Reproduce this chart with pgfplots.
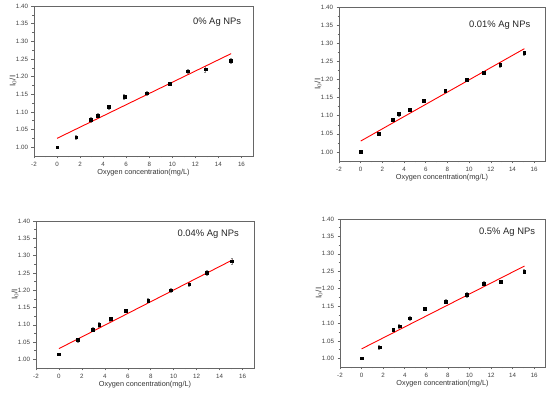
\documentclass[border=0pt]{standalone}
\usepackage{pgfplots}
\pgfplotsset{compat=1.18}
\usepackage{fontspec}
\setmainfont{Liberation Sans}
\pgfplotsset{
  panel/.style={
    scale only axis,
    anchor=south west,
    xmin=-2, xmax=17, ymin=0.975, ymax=1.40,
    xtick={-2,0,...,16}, ytick={1.00,1.05,...,1.41},
    minor x tick num=1, minor y tick num=1,
    xtick pos=bottom, ytick pos=left,
    tick align=outside,
    major tick length=2.5pt, minor tick length=1.5pt,
    axis line style={black!60, line width=0.6pt},
    every tick/.style={black!60, line width=0.5pt},
    tick label style={font=\fontsize{6.2}{7}\selectfont, text=black!75},
    /pgf/number format/assume math mode=true,
    yticklabel style={/pgf/number format/.cd, fixed, fixed zerofill, precision=2},
    xticklabel style={/pgf/number format/.cd, fixed},
    xlabel={Oxygen concentration(mg/L)},
    xlabel style={font=\fontsize{7.3}{8}\selectfont, text=black!80, at={(axis description cs:0.5,0)}, anchor=center, yshift=-17pt},
    ylabel style={font=\fontsize{8}{9}\selectfont, text=black!80, at={(axis description cs:0,0.5)}, anchor=center, yshift=21pt},
    clip=false,
  },
  pts/.style={only marks, mark=square*, mark size=1.35pt, black,
    error bars/.cd, y dir=both, y explicit, error bar style={black!45, line width=0.4pt}, error mark options={rotate=90, mark size=1pt, black!45}},
  fit/.style={red, line width=0.9pt, no marks},
}
\begin{document}
\begin{tikzpicture}
\path[use as bounding box] (0,0) rectangle (550pt,395pt);
% Panel 1
\begin{axis}[panel, at={(34pt,239pt)}, width=219pt, height=150pt, ylabel={I$_0$/I}]
\addplot[pts] coordinates {
(0,1.000) +- (0,0.003)
(1.65,1.028) +- (0,0.006)
(2.94,1.078) +- (0,0.006)
(3.51,1.090) +- (0,0.005)
(4.49,1.114) +- (0,0.006)
(5.84,1.143) +- (0,0.006)
(7.79,1.153) +- (0,0.006)
(9.77,1.180) +- (0,0.005)
(11.35,1.215) +- (0,0.006)
(12.87,1.221) +- (0,0.008)
(15.08,1.245) +- (0,0.008)
};
\addplot[fit] coordinates {(0,1.025) (15.1,1.265)};
\node[font=\fontsize{9.4}{11}\selectfont, text=black!85] at (rel axis cs:0.836,0.893) {0\% Ag NPs};
\end{axis}
% Panel 2
\begin{axis}[panel, at={(339pt,234pt)}, width=206pt, height=154pt, ylabel={I$_0$/I}]
\addplot[pts] coordinates {
(0,1.000) +- (0,0.003)
(1.65,1.051) +- (0,0.004)
(2.94,1.089) +- (0,0.005)
(3.51,1.105) +- (0,0.006)
(4.49,1.116) +- (0,0.004)
(5.84,1.141) +- (0,0.005)
(7.79,1.169) +- (0,0.004)
(9.77,1.200) +- (0,0.004)
(11.35,1.218) +- (0,0.004)
(12.87,1.240) +- (0,0.007)
(15.08,1.273) +- (0,0.005)
};
\addplot[fit] coordinates {(0,1.030) (15.1,1.285)};
\node[font=\fontsize{9.4}{11}\selectfont, text=black!85] at (rel axis cs:0.78,0.883) {0.01\% Ag NPs};
\end{axis}
% Panel 3
\begin{axis}[panel, at={(36pt,27pt)}, width=218pt, height=147pt, ylabel={I$_0$/I}]
\addplot[pts] coordinates {
(0,1.015) +- (0,0.003)
(1.65,1.056) +- (0,0.006)
(2.94,1.086) +- (0,0.006)
(3.51,1.100) +- (0,0.008)
(4.49,1.117) +- (0,0.006)
(5.84,1.141) +- (0,0.005)
(7.79,1.170) +- (0,0.006)
(9.77,1.200) +- (0,0.006)
(11.35,1.217) +- (0,0.006)
(12.87,1.250) +- (0,0.008)
(15.08,1.284) +- (0,0.008)
};
\addplot[fit] coordinates {(0,1.031) (15.1,1.287)};
\node[font=\fontsize{9.4}{11}\selectfont, text=black!85] at (rel axis cs:0.79,0.91) {0.04\% Ag NPs};
\end{axis}
% Panel 4
\begin{axis}[panel, at={(340pt,28pt)}, width=205pt, height=148pt, ylabel={I$_0$/I}]
\addplot[pts] coordinates {
(0,1.000) +- (0,0.003)
(1.65,1.032) +- (0,0.006)
(2.94,1.082) +- (0,0.005)
(3.51,1.092) +- (0,0.005)
(4.49,1.115) +- (0,0.007)
(5.84,1.142) +- (0,0.004)
(7.79,1.163) +- (0,0.006)
(9.77,1.182) +- (0,0.007)
(11.35,1.215) +- (0,0.006)
(12.87,1.220) +- (0,0.005)
(15.08,1.249) +- (0,0.006)
};
\addplot[fit] coordinates {(0,1.027) (15.1,1.265)};
\node[font=\fontsize{9.4}{11}\selectfont, text=black!85] at (rel axis cs:0.815,0.912) {0.5\% Ag NPs};
\end{axis}
\end{tikzpicture}
\end{document}
